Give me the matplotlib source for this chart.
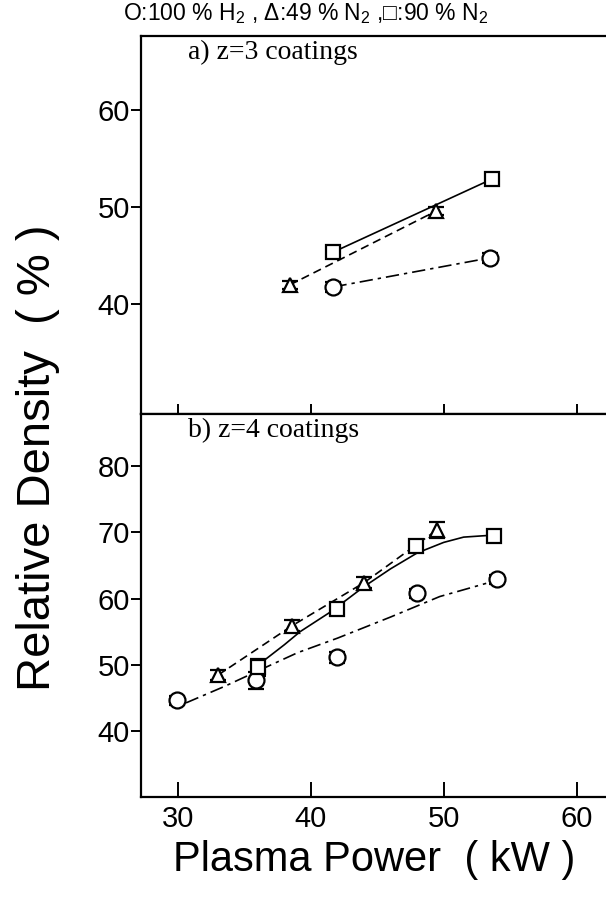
import matplotlib
matplotlib.use("Agg")
import matplotlib.pyplot as plt

plt.rcParams["font.family"] = ["Liberation Sans", "DejaVu Sans"]
plt.rcParams["mathtext.fontset"] = "custom"
plt.rcParams["mathtext.rm"] = "Liberation Sans"
plt.rcParams["mathtext.default"] = "regular"

# a) z=3 coatings
a_h2_x = [41.7, 53.5]
a_h2_y = [41.8, 44.8]
a_h2_err = [0.5, 0.5]
a_n49_x = [38.4, 49.4]
a_n49_y = [42.0, 49.6]
a_n49_err = [0.4, 0.4]
a_n90_x = [41.7, 53.6]
a_n90_y = [45.4, 52.9]
a_n90_err = [0.5, 0.5]

# b) z=4 coatings
b_h2_x = [29.9, 35.9, 42.0, 48.0, 54.0]
b_h2_y = [44.6, 47.6, 51.1, 60.8, 62.9]
b_h2_err = [0.7, 1.3, 0.8, 0.7, 0.7]
b_n49_x = [33.0, 38.6, 44.0, 49.5]
b_n49_y = [48.4, 55.9, 62.4, 70.4]
b_n49_err = [0.8, 0.8, 0.8, 1.2]
b_n90_x = [36.0, 42.0, 47.9, 53.8]
b_n90_y = [49.6, 58.4, 67.9, 69.4]
b_n90_err = [1.3, 0.8, 0.8, 0.7]

# fitted curves
b_h2_fit_x = [30.6, 33.5, 36.4, 39.0, 42.0, 46.0, 49.7, 53.2]
b_h2_fit_y = [44.2, 46.7, 49.4, 51.8, 54.0, 57.2, 60.3, 62.3]
b_n90_fit_x = [36.2, 38.0, 39.2, 41.5, 44.0, 46.0, 48.0, 50.0, 51.5, 53.7]
b_n90_fit_y = [50.2, 53.0, 55.0, 58.0, 61.8, 64.5, 66.9, 68.5, 69.3, 69.6]

legend_text = "O:100 % H$_2$ , Δ:49 % N$_2$ ,□:90 % N$_2$"

fig = plt.figure(figsize=(6.06, 9.07), dpi=100)
ax1 = fig.add_axes([0.2327, 0.5436, 0.7673, 0.4167])
ax2 = fig.add_axes([0.2327, 0.1213, 0.7673, 0.4223])

mk = dict(mfc="white", mec="black", mew=1.6, ecolor="black", elinewidth=1.2,
          capsize=6, capthick=1.3, linestyle="none", zorder=3)


def panel(ax, xs, ys, errs, markers, sizes):
    for x, y, e, m, s in zip(xs, ys, errs, markers, sizes):
        ax.errorbar(x, y, yerr=e, marker=m, ms=s, **mk)


# top panel
ax1.plot(a_h2_x, a_h2_y, color="black", lw=1.2, ls=(0, (8, 3, 2, 3)))
ax1.plot(a_n49_x, a_n49_y, color="black", lw=1.2, ls=(0, (5, 3)))
ax1.plot(a_n90_x, a_n90_y, color="black", lw=1.2, ls="-")
panel(ax1, [a_h2_x, a_n49_x, a_n90_x], [a_h2_y, a_n49_y, a_n90_y],
      [a_h2_err, a_n49_err, a_n90_err], ["o", "^", "s"], [11.5, 10, 9.5])

# bottom panel
ax2.plot(b_h2_fit_x, b_h2_fit_y, color="black", lw=1.2, ls=(0, (8, 3, 2, 3)))
ax2.plot(b_n49_x, b_n49_y, color="black", lw=1.2, ls=(0, (5, 3)))
ax2.plot(b_n90_fit_x, b_n90_fit_y, color="black", lw=1.2, ls="-")
panel(ax2, [b_h2_x, b_n49_x, b_n90_x], [b_h2_y, b_n49_y, b_n90_y],
      [b_h2_err, b_n49_err, b_n90_err], ["o", "^", "s"], [11.5, 10, 9.5])

for ax in (ax1, ax2):
    ax.set_xlim(27.21, 62.22)
    ax.set_xticks([30, 40, 50, 60])
    ax.spines["right"].set_visible(False)
    for s in ("left", "top", "bottom"):
        ax.spines[s].set_linewidth(1.6)
    ax.tick_params(axis="y", direction="out", length=7, width=1.4,
                   labelsize=21, pad=1)
    ax.tick_params(axis="x", direction="in", width=1.4, labelsize=21)

ax1.set_ylim(28.7, 67.67)
ax1.set_yticks([40, 50, 60])
ax1.tick_params(axis="x", length=7, labelbottom=False)
ax2.set_ylim(29.95, 87.95)
ax2.set_yticks([40, 50, 60, 70, 80])
ax2.tick_params(axis="x", length=11, pad=6)

ax1.text(0.1, 0.99, "a) z=3 coatings", transform=ax1.transAxes,
         family="Liberation Serif", fontsize=20, va="top")
ax2.text(0.1, 0.99, "b) z=4 coatings", transform=ax2.transAxes,
         family="Liberation Serif", fontsize=20, va="top")

fig.text(0.505, 0.985, legend_text, ha="center", va="center", fontsize=16.5)
fig.text(0.062, 0.495, "Relative Density  ( % )", rotation=90,
         ha="center", va="center", fontsize=34)
fig.text(0.618, 0.052, "Plasma Power  ( kW )", ha="center", va="center",
         fontsize=30)

fig.savefig("out.png", dpi=100)
